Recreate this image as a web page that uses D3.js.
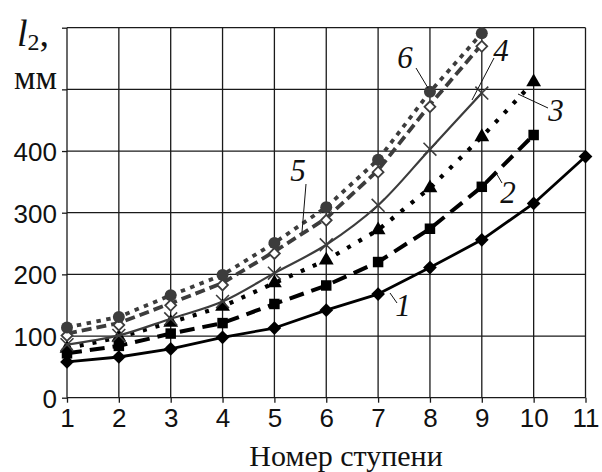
<!DOCTYPE html>
<html>
<head>
<meta charset="utf-8">
<script src="https://cdn.jsdelivr.net/npm/d3@7"></script>
<style>
  html, body { margin: 0; padding: 0; background: #fff; }
  svg { display: block; }
</style>
</head>
<body>
<svg id="chart" width="602" height="472"></svg>
<script>
// Stage numbers on the horizontal axis
const stages = [1, 2, 3, 4, 5, 6, 7, 8, 9, 10, 11];
const yTicks = [0, 100, 200, 300, 400, 500, 600];
const yTickLabels = ["0", "100", "200", "300", "400", "", ""];

// l2 values (mm) for each curve, starting at stage 1
const series1 = [58, 66, 79, 98, 113, 142, 168, 211, 256, 315, 391];
const series2 = [72, 84, 104, 121, 152, 182, 220, 274, 342, 426];
const series3 = [80, 98, 122, 148, 186, 223, 272, 340, 423, 512];
const series4 = [86, 101, 128, 156, 202, 248, 312, 403, 494];
const series5 = [104, 121, 153, 186, 237, 291, 369, 475, 573];
const series6 = [114, 131, 166, 199, 251, 309, 386, 496, 591];

const curveNames = ["1", "2", "3", "4", "5", "6"];

const svg = d3.select("#chart");
const x = d3.scaleLinear().domain([1, 11]).range([67, 585.5]);
const y = d3.scaleLinear().domain([0, 600]).range([397.7, 27.7]);

const gridColor = "#1a1a1a";
const sansFont = "'Liberation Sans', Arial, sans-serif";
const serifFont = "'Liberation Serif', 'Times New Roman', serif";

// grid
const grid = svg.append("g");
grid.selectAll("line.h").data(yTicks).join("line")
  .attr("x1", x(1)).attr("x2", x(11))
  .attr("y1", d => y(d)).attr("y2", d => y(d))
  .attr("stroke", gridColor).attr("stroke-width", 1.3);
grid.selectAll("line.v").data(stages).join("line")
  .attr("x1", d => x(d)).attr("x2", d => x(d))
  .attr("y1", y(0)).attr("y2", y(600))
  .attr("stroke", gridColor).attr("stroke-width", 1.3);

// axes
const yAxis = d3.axisLeft(y).tickValues(yTicks).tickSize(5).tickPadding(5)
  .tickFormat((d, i) => yTickLabels[i]);
const gy = svg.append("g").attr("transform", `translate(${x(1)},0)`).call(yAxis);
gy.select(".domain").remove();
gy.selectAll(".tick line").attr("stroke", gridColor).attr("stroke-width", 1.3);
gy.selectAll(".tick text").attr("font-family", sansFont)
  .attr("font-size", 26).attr("fill", "#111").attr("dy", "0.36em");

const xAxis = d3.axisBottom(x).tickValues(stages).tickSize(5).tickPadding(6)
  .tickFormat(d3.format("d"));
const gx = svg.append("g").attr("transform", `translate(0,${y(0)})`).call(xAxis);
gx.select(".domain").remove();
gx.selectAll(".tick line").attr("stroke", gridColor).attr("stroke-width", 1.3);
gx.selectAll(".tick text").attr("font-family", sansFont)
  .attr("font-size", 26).attr("fill", "#111").attr("dy", "0.7em");

// axis titles
svg.append("text").attr("x", 346).attr("y", 466)
  .attr("text-anchor", "middle")
  .attr("font-family", serifFont)
  .attr("font-size", 30).attr("fill", "#111")
  .text("Номер ступени");

const yl = svg.append("text").attr("x", 17).attr("y", 46)
  .attr("font-family", serifFont)
  .attr("font-size", 38).attr("fill", "#111");
yl.append("tspan").attr("font-style", "italic").text("l");
yl.append("tspan").attr("font-size", 24).attr("dy", 4).text("2");
yl.append("tspan").attr("dy", -4).text(",");

svg.append("text").attr("x", 57).attr("y", 89)
  .attr("text-anchor", "end")
  .attr("font-family", serifFont)
  .attr("font-size", 34).attr("fill", "#111")
  .text("мм");

// curves
const seriesList = [
  { values: series1, color: "#000", width: 2.8, dash: null, curve: d3.curveLinear, marker: "diamond" },
  { values: series2, color: "#000", width: 4, dash: "15,8", curve: d3.curveLinear, marker: "square" },
  { values: series3, color: "#000", width: 4.2, dash: "4,9", curve: d3.curveLinear, marker: "triangle" },
  { values: series4, color: "#3c3c3c", width: 2.2, dash: null, curve: d3.curveCatmullRom.alpha(0.5), marker: "cross" },
  { values: series5, color: "#3c3c3c", width: 3.8, dash: "10,5", curve: d3.curveLinear, marker: "openDiamond" },
  { values: series6, color: "#3c3c3c", width: 3.8, dash: "4.5,5.5", curve: d3.curveLinear, marker: "circle" }
];

const plot = svg.append("g");
seriesList.forEach(s => {
  const pts = s.values.map((v, i) => [stages[i], v]);
  const line = d3.line().x(d => x(d[0])).y(d => y(d[1])).curve(s.curve);
  plot.append("path").datum(pts)
    .attr("d", line).attr("fill", "none")
    .attr("stroke", s.color).attr("stroke-width", s.width)
    .attr("stroke-dasharray", s.dash)
    .attr("stroke-linejoin", "round");

  const mg = plot.append("g");
  pts.forEach(p => {
    const cx = x(p[0]), cy = y(p[1]);
    if (s.marker === "diamond") {
      mg.append("path").attr("d", d3.symbol(d3.symbolDiamond2, 120)())
        .attr("transform", `translate(${cx},${cy})`).attr("fill", "#000");
    } else if (s.marker === "square") {
      mg.append("path").attr("d", d3.symbol(d3.symbolSquare, 110)())
        .attr("transform", `translate(${cx},${cy})`).attr("fill", "#000");
    } else if (s.marker === "triangle") {
      mg.append("path").attr("d", d3.symbol(d3.symbolTriangle, 95)())
        .attr("transform", `translate(${cx},${cy})`).attr("fill", "#000");
    } else if (s.marker === "cross") {
      mg.append("path").attr("d", d3.symbol(d3.symbolX, 110)())
        .attr("transform", `translate(${cx},${cy})`)
        .attr("fill", "none").attr("stroke", s.color).attr("stroke-width", 1.6);
    } else if (s.marker === "openDiamond") {
      mg.append("path").attr("d", d3.symbol(d3.symbolDiamond2, 75)())
        .attr("transform", `translate(${cx},${cy + 2})`)
        .attr("fill", "#fff").attr("stroke", s.color).attr("stroke-width", 1.8);
    } else if (s.marker === "circle") {
      mg.append("circle").attr("cx", cx).attr("cy", cy).attr("r", 6)
        .attr("fill", s.color);
    }
  });
});

// curve number labels with leader lines
const labels = [
  { name: curveNames[0], tx: 403, ty: 316, l: [[390, 293], [397, 303]] },
  { name: curveNames[1], tx: 508, ty: 203, l: [[495, 171], [502, 183]] },
  { name: curveNames[2], tx: 556, ty: 121, l: [[518, 94], [548, 108]] },
  { name: curveNames[3], tx: 501, ty: 61, l: [[472, 100], [494, 58]] },
  { name: curveNames[4], tx: 298, ty: 181, l: [[306, 184], [302, 232]] },
  { name: curveNames[5], tx: 405, ty: 68, l: [[416, 68], [428, 88]] }
];
const lg = svg.append("g");
labels.forEach(d => {
  lg.append("line")
    .attr("x1", d.l[0][0]).attr("y1", d.l[0][1])
    .attr("x2", d.l[1][0]).attr("y2", d.l[1][1])
    .attr("stroke", "#111").attr("stroke-width", 1);
  lg.append("text").attr("x", d.tx).attr("y", d.ty)
    .attr("text-anchor", "middle")
    .attr("font-family", serifFont).attr("font-style", "italic")
    .attr("font-size", 31).attr("fill", "#111")
    .text(d.name);
});
</script>
</body>
</html>
